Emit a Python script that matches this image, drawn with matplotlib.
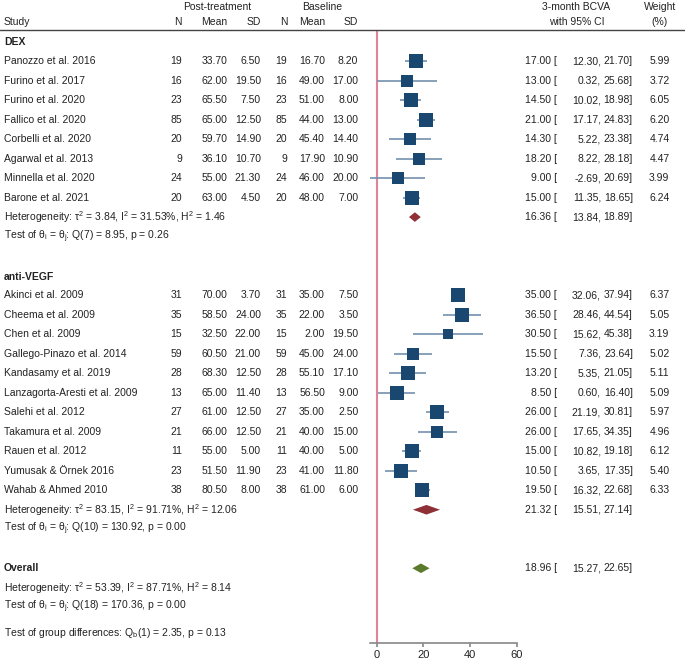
import matplotlib
matplotlib.use("Agg")
import matplotlib.pyplot as plt
from matplotlib.lines import Line2D
from matplotlib.patches import Polygon
from matplotlib.transforms import blended_transform_factory

plt.rcParams['font.family'] = ['Liberation Sans', 'DejaVu Sans']
plt.rcParams['font.size'] = 7.5
plt.rcParams['mathtext.fontset'] = 'custom'
plt.rcParams['mathtext.rm'] = 'Liberation Sans'
plt.rcParams['mathtext.it'] = 'Liberation Sans'
plt.rcParams['mathtext.bf'] = 'Liberation Sans:bold'

# ---- data ----
dex_studies = ["Panozzo et al. 2016", "Furino et al. 2017", "Furino et al. 2020", "Fallico et al. 2020",
               "Corbelli et al. 2020", "Agarwal et al. 2013", "Minnella et al. 2020", "Barone et al. 2021"]
dex_n1 = [19, 16, 23, 85, 20, 9, 24, 20]
dex_mean1 = [33.70, 62.00, 65.50, 65.00, 59.70, 36.10, 55.00, 63.00]
dex_sd1 = [6.50, 19.50, 7.50, 12.50, 14.90, 10.70, 21.30, 4.50]
dex_n2 = [19, 16, 23, 85, 20, 9, 24, 20]
dex_mean2 = [16.70, 49.00, 51.00, 44.00, 45.40, 17.90, 46.00, 48.00]
dex_sd2 = [8.20, 17.00, 8.00, 13.00, 14.40, 10.90, 20.00, 7.00]
dex_est = [17.00, 13.00, 14.50, 21.00, 14.30, 18.20, 9.00, 15.00]
dex_lo = [12.30, 0.32, 10.02, 17.17, 5.22, 8.22, -2.69, 11.35]
dex_hi = [21.70, 25.68, 18.98, 24.83, 23.38, 28.18, 20.69, 18.65]
dex_w = [5.99, 3.72, 6.05, 6.20, 4.74, 4.47, 3.99, 6.24]
dex_pooled = (16.36, 13.84, 18.89)

vegf_studies = ["Akinci et al. 2009", "Cheema et al. 2009", "Chen et al. 2009", "Gallego-Pinazo et al. 2014",
                "Kandasamy et al. 2019", "Lanzagorta-Aresti et al. 2009", "Salehi et al. 2012",
                "Takamura et al. 2009", "Rauen et al. 2012", "Yumusak & Örnek 2016", "Wahab & Ahmed 2010"]
vegf_n1 = [31, 35, 15, 59, 28, 13, 27, 21, 11, 23, 38]
vegf_mean1 = [70.00, 58.50, 32.50, 60.50, 68.30, 65.00, 61.00, 66.00, 55.00, 51.50, 80.50]
vegf_sd1 = [3.70, 24.00, 22.00, 21.00, 12.50, 11.40, 12.50, 12.50, 5.00, 11.90, 8.00]
vegf_n2 = [31, 35, 15, 59, 28, 13, 27, 21, 11, 23, 38]
vegf_mean2 = [35.00, 22.00, 2.00, 45.00, 55.10, 56.50, 35.00, 40.00, 40.00, 41.00, 61.00]
vegf_sd2 = [7.50, 3.50, 19.50, 24.00, 17.10, 9.00, 2.50, 15.00, 5.00, 11.80, 6.00]
vegf_est = [35.00, 36.50, 30.50, 15.50, 13.20, 8.50, 26.00, 26.00, 15.00, 10.50, 19.50]
vegf_lo = [32.06, 28.46, 15.62, 7.36, 5.35, 0.60, 21.19, 17.65, 10.82, 3.65, 16.32]
vegf_hi = [37.94, 44.54, 45.38, 23.64, 21.05, 16.40, 30.81, 34.35, 19.18, 17.35, 22.68]
vegf_w = [6.37, 5.05, 3.19, 5.02, 5.11, 5.09, 5.97, 4.96, 6.12, 5.40, 6.33]
vegf_pooled = (21.32, 15.51, 27.14)

overall_pooled = (18.96, 15.27, 22.65)

dex_het = r"Heterogeneity: τ$^{2}$ = 3.84, I$^{2}$ = 31.53%, H$^{2}$ = 1.46"
dex_test = r"Test of θ$_{i}$ = θ$_{j}$: Q(7) = 8.95, p = 0.26"
vegf_het = r"Heterogeneity: τ$^{2}$ = 83.15, I$^{2}$ = 91.71%, H$^{2}$ = 12.06"
vegf_test = r"Test of θ$_{i}$ = θ$_{j}$: Q(10) = 130.92, p = 0.00"
all_het = r"Heterogeneity: τ$^{2}$ = 53.39, I$^{2}$ = 87.71%, H$^{2}$ = 8.14"
all_test = r"Test of θ$_{i}$ = θ$_{j}$: Q(18) = 170.36, p = 0.00"
group_test = r"Test of group differences: Q$_{b}$(1) = 2.35, p = 0.13"

xticks = [0, 20, 40, 60]

# ---- layout (pixels) ----
W, H = 685, 661
ROW0, STEP = 61, 19.51          # pixel y of first study row and row spacing
AX_TOP, AX_BOT = 30, 643
X0, X60 = 376.7, 516.7
xmin = min(dex_lo + vegf_lo)
ppu = (X60 - X0) / 60.0

col_square = "#1a476f"
col_ci = "#7391ad"
col_dex = "#8f2f36"
col_all = "#5b7a2c"
col_ref = "#e0849a"
txt = "#222222"

fig = plt.figure(figsize=(W / 100, H / 100), dpi=100)
ax_left = X0 + xmin * ppu
ax = fig.add_axes([ax_left / W, 1 - AX_BOT / H, (X60 - ax_left) / W, (AX_BOT - AX_TOP) / H])
ax.set_xlim(xmin, 60)
ax.set_ylim((AX_BOT - ROW0) / STEP, (AX_TOP - ROW0) / STEP)
ax.patch.set_visible(False)
for s in ["top", "right", "left"]:
    ax.spines[s].set_visible(False)
ax.spines["bottom"].set_color("#888888")
ax.spines["bottom"].set_linewidth(1.2)
ax.set_yticks([])
ax.set_xticks(xticks)
ax.tick_params(axis="x", colors="#888888", labelcolor=txt, length=3, width=1.2, labelsize=8, pad=2)

tr = blended_transform_factory(fig.transFigure, ax.transData)


def put(px, row, s, ha="left", **kw):
    ax.text(px / W, row, s, transform=tr, ha=ha, va="center", color=txt, clip_on=False, **kw)


# header
hdr_row = lambda py: (py - ROW0) / STEP
put(216.7, hdr_row(7), "Post-treatment", ha="center")
put(321.7, hdr_row(7), "Baseline", ha="center")
put(576, hdr_row(7), "3-month BCVA", ha="center")
put(660, hdr_row(7), "Weight", ha="center")
put(4, hdr_row(22), "Study")
for px, lab in zip([182, 227.7, 261, 287.3, 325, 358.3], ["N", "Mean", "SD", "N", "Mean", "SD"]):
    put(px, hdr_row(22), lab, ha="right")
put(577, hdr_row(22), "with 95% CI", ha="center")
put(660, hdr_row(22), "(%)", ha="center")
fig.add_artist(Line2D([0, 1], [1 - 30 / H, 1 - 30 / H], color="#444444", lw=1.0, transform=fig.transFigure))

# reference line
ax.axvline(0, color=col_ref, lw=1.5, zorder=1)


def ci_text(row, est, lo, hi, w=None):
    put(557, row, f"{est:.2f} [", ha="right")
    put(601, row, f"{lo:.2f},", ha="right")
    put(633, row, f"{hi:.2f}]", ha="right")
    if w is not None:
        put(669.5, row, f"{w:.2f}", ha="right")


def diamond(row, est, lo, hi, color):
    h = 4.8 / STEP
    ax.add_patch(Polygon([(lo, row), (est, row - h), (hi, row), (est, row + h)],
                         closed=True, facecolor=color, edgecolor="none", zorder=3))


def group(start, title, studies, n1, m1, s1, n2, m2, s2, est, lo, hi, w, pooled, het, test, pcol):
    put(4, start - 0.95, title, fontweight="bold")
    for i, name in enumerate(studies):
        r = start + i
        put(4, r, name)
        for px, v in zip([182, 227.7, 261, 287.3, 325, 358.3], [n1[i], m1[i], s1[i], n2[i], m2[i], s2[i]]):
            put(px, r, f"{v}" if isinstance(v, int) else f"{v:.2f}", ha="right")
        ax.plot([lo[i], hi[i]], [r, r], color=col_ci, lw=1.2, zorder=2, solid_capstyle="butt")
        side = 5.8 * w[i] ** 0.5 * 0.72
        ax.plot(est[i], r, marker="s", markersize=side, color=col_square, markeredgewidth=0, zorder=3)
        ci_text(r, est[i], lo[i], hi[i], w[i])
    r = start + len(studies)
    put(4, r, het)
    diamond(r, *pooled, pcol)
    ci_text(r, *pooled)
    put(4, r + 1, test)


group(0, "DEX", dex_studies, dex_n1, dex_mean1, dex_sd1, dex_n2, dex_mean2, dex_sd2,
      dex_est, dex_lo, dex_hi, dex_w, dex_pooled, dex_het, dex_test, col_dex)
group(12, "anti-VEGF", vegf_studies, vegf_n1, vegf_mean1, vegf_sd1, vegf_n2, vegf_mean2, vegf_sd2,
      vegf_est, vegf_lo, vegf_hi, vegf_w, vegf_pooled, vegf_het, vegf_test, col_dex)

put(4, 26, "Overall", fontweight="bold")
diamond(26, *overall_pooled, col_all)
ci_text(26, *overall_pooled)
put(4, 27, all_het)
put(4, 28, all_test)
put(4, 29.33, group_test)

fig.savefig("out.png", dpi=100)
